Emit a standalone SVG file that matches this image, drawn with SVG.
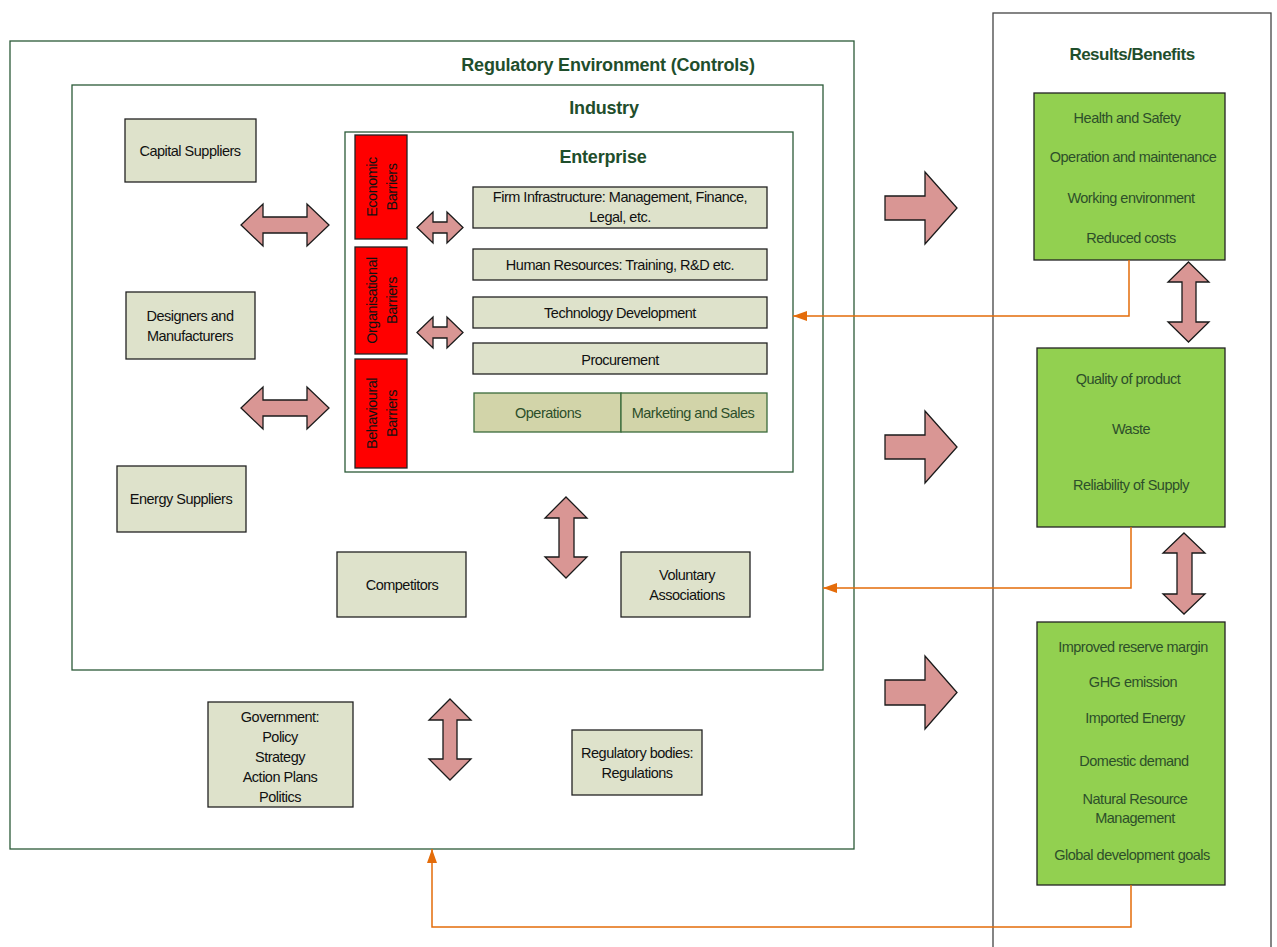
<svg xmlns="http://www.w3.org/2000/svg" width="1277" height="947" viewBox="0 0 1277 947">
  <style>
    .frame { fill: none; stroke: #2b5a38; stroke-width: 1.3; }
    .outer { fill: none; stroke: #444; stroke-width: 1.3; }
    .box { fill: #dee2cb; stroke: #222; stroke-width: 1.3; }
    .ops { fill: #d2d4a9; stroke: #3b6b3b; stroke-width: 1.3; }
    .red { fill: #ff0000; stroke: #222; stroke-width: 1.3; }
    .green { fill: #92d050; stroke: #222; stroke-width: 1.3; }
    .arrow { fill: #d99694; stroke: #1a1a1a; stroke-width: 1.3; stroke-linejoin: miter; }
    .link { fill: none; stroke: #e46c0a; stroke-width: 1.5; }
    text { font-family: "Liberation Sans", Arial, sans-serif; font-size: 14.5px; letter-spacing: -0.5px; text-anchor: middle; fill: #111; }
    .gt { fill: #2d4f2a; }
    .title { font-weight: bold; font-size: 18px; letter-spacing: -0.2px; fill: #1f4e2c; }
  </style>
  <defs>
    <marker id="tip" markerUnits="userSpaceOnUse" markerWidth="14" markerHeight="10" viewBox="0 0 14 10" refX="14" refY="5" orient="auto">
      <path d="M0,0 L14,5 L0,10 z" fill="#e46c0a"/>
    </marker>
  </defs>

  <rect width="1277" height="947" fill="#ffffff"/>

  <!-- containers -->
  <g id="regulatory-environment">
    <rect class="frame" x="10" y="41" width="844" height="808"/>
    <text class="title" x="608" y="71">Regulatory Environment (Controls)</text>
  </g>
  <g id="industry">
    <rect class="frame" x="72" y="85" width="751" height="585"/>
    <text class="title" x="604" y="114">Industry</text>
  </g>
  <g id="enterprise">
    <rect class="frame" x="345" y="132" width="448" height="340"/>
    <text class="title" x="603" y="163">Enterprise</text>
  </g>
  <g id="results-benefits">
    <rect class="outer" x="993" y="13" width="278" height="960"/>
    <text class="title" x="1132" y="60" style="font-size:17px;letter-spacing:-0.5px">Results/Benefits</text>
  </g>

  <!-- industry actors -->
  <g id="capital-suppliers">
    <rect class="box" x="125" y="119" width="131" height="63"/>
    <text x="190" y="156">Capital Suppliers</text>
  </g>
  <g id="designers-manufacturers">
    <rect class="box" x="126" y="292" width="129" height="67"/>
    <text x="190" y="321">Designers and</text>
    <text x="190" y="341">Manufacturers</text>
  </g>
  <g id="energy-suppliers">
    <rect class="box" x="117" y="466" width="129" height="66"/>
    <text x="181" y="504">Energy Suppliers</text>
  </g>
  <g id="competitors">
    <rect class="box" x="337" y="552" width="129" height="65"/>
    <text x="402" y="590">Competitors</text>
  </g>
  <g id="voluntary-associations">
    <rect class="box" x="621" y="552" width="129" height="65"/>
    <text x="687" y="580">Voluntary</text>
    <text x="687" y="600">Associations</text>
  </g>
  <g id="government">
    <rect class="box" x="208" y="702" width="145" height="105"/>
    <text x="280" y="722">Government:</text>
    <text x="280" y="742">Policy</text>
    <text x="280" y="762">Strategy</text>
    <text x="280" y="782">Action Plans</text>
    <text x="280" y="802">Politics</text>
  </g>
  <g id="regulatory-bodies">
    <rect class="box" x="572" y="730" width="130" height="65"/>
    <text x="637" y="758">Regulatory bodies:</text>
    <text x="637" y="778">Regulations</text>
  </g>

  <!-- barriers -->
  <g id="economic-barriers">
    <rect class="red" x="355" y="135" width="52" height="104"/>
    <text transform="translate(377,187) rotate(-90)">Economic</text>
    <text transform="translate(397,187) rotate(-90)">Barriers</text>
  </g>
  <g id="organisational-barriers">
    <rect class="red" x="355" y="247" width="52" height="107"/>
    <text transform="translate(377,300.5) rotate(-90)">Organisational</text>
    <text transform="translate(397,300.5) rotate(-90)">Barriers</text>
  </g>
  <g id="behavioural-barriers">
    <rect class="red" x="355" y="359" width="52" height="109"/>
    <text transform="translate(377,413.5) rotate(-90)">Behavioural</text>
    <text transform="translate(397,413.5) rotate(-90)">Barriers</text>
  </g>

  <!-- value chain -->
  <g id="firm-infrastructure">
    <rect class="box" x="473" y="187" width="294" height="41"/>
    <text x="620" y="202">Firm Infrastructure: Management, Finance,</text>
    <text x="620" y="222">Legal, etc.</text>
  </g>
  <g id="human-resources">
    <rect class="box" x="473" y="249" width="294" height="31"/>
    <text x="620" y="270">Human Resources: Training, R&amp;D etc.</text>
  </g>
  <g id="technology-development">
    <rect class="box" x="473" y="297" width="294" height="31"/>
    <text x="620" y="318">Technology Development</text>
  </g>
  <g id="procurement">
    <rect class="box" x="473" y="343" width="294" height="31"/>
    <text x="620" y="365">Procurement</text>
  </g>
  <g id="operations">
    <rect class="ops" x="474" y="393" width="147" height="39"/>
    <text class="gt" x="548" y="418">Operations</text>
  </g>
  <g id="marketing-sales">
    <rect class="ops" x="621" y="393" width="146" height="39"/>
    <text class="gt" x="693" y="418">Marketing and Sales</text>
  </g>

  <!-- results -->
  <g id="benefits-operational">
    <rect class="green" x="1034" y="93" width="191" height="167"/>
    <text class="gt" x="1127" y="123">Health and Safety</text>
    <text class="gt" x="1133" y="162">Operation and maintenance</text>
    <text class="gt" x="1131" y="203">Working environment</text>
    <text class="gt" x="1131" y="243">Reduced costs</text>
  </g>
  <g id="benefits-product">
    <rect class="green" x="1037" y="348" width="188" height="179"/>
    <text class="gt" x="1128" y="384">Quality of product</text>
    <text class="gt" x="1131" y="434">Waste</text>
    <text class="gt" x="1131" y="490">Reliability of Supply</text>
  </g>
  <g id="benefits-national">
    <rect class="green" x="1037" y="622" width="188" height="263"/>
    <text class="gt" x="1133" y="652">Improved reserve margin</text>
    <text class="gt" x="1133" y="687">GHG emission</text>
    <text class="gt" x="1135" y="723">Imported Energy</text>
    <text class="gt" x="1134" y="766">Domestic demand</text>
    <text class="gt" x="1135" y="804">Natural Resource</text>
    <text class="gt" x="1135" y="823">Management</text>
    <text class="gt" x="1132" y="860">Global development goals</text>
  </g>

  <!-- connectors -->
  <g id="connectors">
    <polygon class="arrow" points="241,225 263,204 263,217 307,217 307,204 329,225 307,246 307,233 263,233 263,246"/>
    <polygon class="arrow" points="241,408 263,387 263,400 307,400 307,387 329,408 307,429 307,416 263,416 263,429"/>
    <polygon class="arrow" points="417,227.5 433,212 433,222 447,222 447,212 463,227.5 447,243 447,233 433,233 433,243"/>
    <polygon class="arrow" points="417,332.5 433,317 433,327 447,327 447,317 463,332.5 447,348 447,338 433,338 433,348"/>
    <polygon class="arrow" points="566,497 587,518 574,518 574,557 587,557 566,578 545,557 559,557 559,518 545,518"/>
    <polygon class="arrow" points="450,699 471,720 457,720 457,759 471,759 450,780 429,759 443,759 443,720 429,720"/>
    <polygon class="arrow" points="1188.5,262 1209,282 1196,282 1196,322 1209,322 1188.5,342 1168,322 1182,322 1182,282 1168,282"/>
    <polygon class="arrow" points="1184,533 1205,553 1192,553 1192,594 1205,594 1184,614 1163,594 1177,594 1177,553 1163,553"/>
    <polygon class="arrow" points="885,196 925,196 925,172 957,208 925,244 925,220 885,220"/>
    <polygon class="arrow" points="885,435 925,435 925,411 957,447 925,483 925,459 885,459"/>
    <polygon class="arrow" points="885,680 925,680 925,656 957,692.5 925,729 925,705 885,705"/>
    <path class="link" d="M1129,260 V316 H793" marker-end="url(#tip)"/>
    <path class="link" d="M1131,527 V588 H823" marker-end="url(#tip)"/>
    <path class="link" d="M1131,885 V927 H432 V849" marker-end="url(#tip)"/>
  </g>
</svg>
